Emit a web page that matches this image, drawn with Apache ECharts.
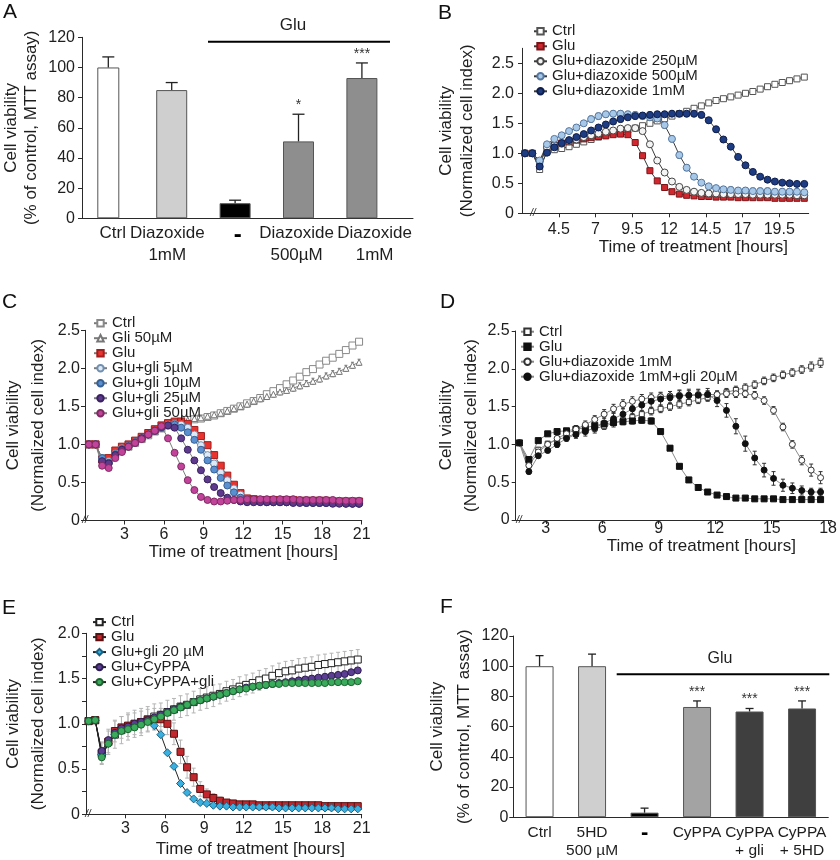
<!DOCTYPE html>
<html><head><meta charset="utf-8">
<script src="https://cdn.jsdelivr.net/npm/echarts@6/dist/echarts.min.js"></script>
<style>
html,body{margin:0;padding:0;background:#fff;}
body{width:840px;height:860px;position:relative;overflow:hidden;}
.p{position:absolute;left:0;top:0;width:840px;height:860px;}
</style></head>
<body>
<div id="cA" class="p"></div><div id="cB" class="p"></div><div id="cC" class="p"></div>
<div id="cD" class="p"></div><div id="cE" class="p"></div><div id="cF" class="p"></div>
<script>
// ---------- Panel A (MTT, diazoxide) ----------
const catsA = ['Ctrl', 'Diazoxide\n1mM', '-', 'Diazoxide\n500µM', 'Diazoxide\n1mM'];
const valsA = [100, 85, 10, 51, 93];
const errA  = [7, 5, 2, 18, 10];
const sigA  = ['', '', '', '*', '***'];

// ---------- Panel F (MTT, CyPPA) ----------
const catsF = ['Ctrl', '5HD\n500 µM', '-', 'CyPPA', 'CyPPA\n+ gli', 'CyPPA\n+ 5HD'];
const valsF = [100, 100, 3, 73, 70, 72];
const errF  = [7, 8, 3, 4, 2, 5];
const sigF  = ['', '', '', '***', '***', '***'];

// ---------- Panel B ----------
const ticksB = [4.5, 7, 9.5, 12, 14.5, 17, 19.5];
const tB = [2.2,2.7,3.2,3.7,4.2,4.7,5.2,5.7,6.2,6.7,7.2,7.7,8.2,8.7,9.2,9.7,10.2,10.7,11.2,11.7,12.2,12.7,13.2,13.7,14.2,14.7,15.2,15.7,16.2,16.7,17.2,17.7,18.2,18.7,19.2,19.7,20.2,20.7,21.2];
const ctrlB = [1.00,1.00,0.73,1.03,1.06,1.08,1.11,1.15,1.19,1.23,1.27,1.30,1.33,1.36,1.39,1.42,1.46,1.50,1.54,1.58,1.62,1.66,1.70,1.75,1.79,1.84,1.88,1.91,1.94,1.97,2.00,2.03,2.07,2.11,2.15,2.18,2.21,2.24,2.27];
const gluB  = [1.00,1.00,0.80,1.12,1.14,1.17,1.19,1.22,1.24,1.26,1.28,1.29,1.31,1.32,1.31,1.18,0.96,0.71,0.54,0.43,0.36,0.32,0.30,0.29,0.28,0.28,0.27,0.27,0.27,0.26,0.26,0.26,0.26,0.26,0.25,0.25,0.25,0.25,0.25];
const d250B = [1.00,1.00,0.86,1.10,1.13,1.16,1.20,1.23,1.27,1.30,1.33,1.36,1.38,1.41,1.42,1.42,1.37,1.15,0.88,0.68,0.53,0.44,0.39,0.36,0.34,0.33,0.33,0.32,0.32,0.32,0.32,0.31,0.31,0.31,0.31,0.31,0.31,0.30,0.30];
const d500B = [1.00,1.00,0.88,1.15,1.24,1.30,1.37,1.43,1.50,1.57,1.62,1.65,1.66,1.66,1.65,1.64,1.62,1.60,1.58,1.47,1.24,0.97,0.76,0.61,0.51,0.45,0.42,0.40,0.39,0.38,0.38,0.37,0.37,0.37,0.36,0.36,0.36,0.36,0.35];
const d1mB  = [1.00,1.00,0.78,1.01,1.10,1.17,1.22,1.27,1.32,1.38,1.43,1.48,1.53,1.57,1.60,1.62,1.63,1.64,1.65,1.65,1.66,1.66,1.66,1.66,1.64,1.55,1.40,1.23,1.11,0.94,0.80,0.69,0.61,0.56,0.53,0.51,0.50,0.49,0.49];
const eCtrlB = [0.01,0.01,0.03,0.02,0.02,0.02,0.02,0.02,0.02,0.02,0.03,0.03,0.03,0.03,0.03,0.03,0.03,0.03,0.03,0.03,0.03,0.03,0.03,0.03,0.03,0.03,0.03,0.03,0.03,0.03,0.03,0.03,0.03,0.03,0.03,0.03,0.04,0.04,0.04];
const e500B  = [0.01,0.01,0.03,0.03,0.03,0.03,0.03,0.04,0.04,0.05,0.05,0.05,0.05,0.05,0.05,0.05,0.05,0.05,0.05,0.05,0.05,0.05,0.05,0.04,0.04,0.04,0.04,0.04,0.05,0.05,0.05,0.05,0.05,0.05,0.05,0.05,0.05,0.05,0.05];
const e1mB   = [0.01,0.01,0.03,0.03,0.03,0.03,0.03,0.03,0.04,0.04,0.04,0.04,0.04,0.05,0.05,0.05,0.05,0.05,0.05,0.05,0.05,0.05,0.05,0.05,0.05,0.05,0.05,0.04,0.04,0.04,0.03,0.03,0.03,0.02,0.02,0.02,0.02,0.02,0.02];

// ---------- Panel C ----------
const ticksC = [3, 6, 9, 12, 15, 18, 21];
const tC = [0.3,0.8,1.3,1.8,2.3,2.8,3.3,3.8,4.3,4.8,5.3,5.8,6.3,6.8,7.3,7.8,8.3,8.8,9.3,9.8,10.3,10.8,11.3,11.8,12.3,12.8,13.3,13.8,14.3,14.8,15.3,15.8,16.3,16.8,17.3,17.8,18.3,18.8,19.3,19.8,20.3,20.8];
const ctrlC = [1.00,1.00,0.82,0.78,0.88,0.94,0.97,1.02,1.07,1.12,1.17,1.21,1.25,1.28,1.30,1.32,1.33,1.34,1.36,1.38,1.41,1.44,1.47,1.50,1.54,1.57,1.61,1.66,1.70,1.74,1.79,1.84,1.89,1.95,1.99,2.05,2.10,2.14,2.19,2.24,2.30,2.35];
const gliC  = [1.00,1.00,0.80,0.77,0.88,0.94,0.98,1.03,1.08,1.13,1.17,1.21,1.25,1.28,1.30,1.32,1.34,1.35,1.37,1.39,1.41,1.44,1.47,1.50,1.53,1.57,1.60,1.63,1.66,1.69,1.71,1.74,1.77,1.80,1.83,1.86,1.90,1.93,1.96,2.00,2.04,2.08];
const gluC  = [1.00,1.00,0.80,0.82,0.92,0.97,1.00,1.05,1.10,1.15,1.20,1.25,1.28,1.30,1.30,1.27,1.19,1.11,0.99,0.86,0.72,0.59,0.47,0.36,0.29,0.28,0.27,0.27,0.27,0.27,0.27,0.27,0.26,0.26,0.26,0.26,0.26,0.25,0.25,0.25,0.25,0.25];
const g5C   = [1.00,1.00,0.80,0.78,0.88,0.95,0.98,1.03,1.08,1.13,1.18,1.23,1.26,1.27,1.26,1.22,1.13,0.99,0.86,0.75,0.63,0.53,0.42,0.34,0.28,0.26,0.25,0.25,0.25,0.24,0.24,0.24,0.24,0.24,0.24,0.23,0.23,0.23,0.23,0.23,0.22,0.22];
const g10C  = [1.00,1.00,0.82,0.76,0.87,0.94,0.98,1.03,1.08,1.13,1.18,1.22,1.25,1.26,1.22,1.16,1.06,0.93,0.79,0.67,0.56,0.46,0.37,0.30,0.27,0.25,0.25,0.24,0.24,0.24,0.24,0.24,0.24,0.23,0.23,0.23,0.23,0.23,0.23,0.22,0.22,0.22];
const g25C  = [1.00,1.00,0.78,0.75,0.86,0.93,0.97,1.02,1.08,1.13,1.18,1.23,1.25,1.22,1.08,0.93,0.79,0.66,0.54,0.44,0.36,0.30,0.27,0.25,0.24,0.24,0.24,0.24,0.24,0.24,0.24,0.23,0.23,0.23,0.23,0.23,0.23,0.22,0.22,0.22,0.22,0.22];
const g50C  = [1.00,1.00,0.72,0.69,0.82,0.90,0.97,1.02,1.07,1.13,1.18,1.24,1.08,0.89,0.71,0.53,0.40,0.31,0.27,0.25,0.25,0.26,0.27,0.27,0.28,0.28,0.28,0.28,0.28,0.28,0.28,0.28,0.27,0.27,0.27,0.27,0.27,0.27,0.26,0.26,0.26,0.26];
const eGliC = [0.01,0.01,0.02,0.02,0.02,0.02,0.02,0.02,0.02,0.02,0.02,0.02,0.02,0.02,0.02,0.03,0.03,0.03,0.03,0.03,0.03,0.03,0.03,0.04,0.04,0.04,0.04,0.04,0.04,0.04,0.04,0.04,0.04,0.04,0.04,0.04,0.04,0.04,0.04,0.04,0.04,0.04];

// ---------- Panel D ----------
const ticksD = [3, 6, 9, 12, 15, 18];
const tD = [1.6,2.1,2.6,3.1,3.6,4.1,4.6,5.1,5.6,6.1,6.6,7.1,7.6,8.1,8.6,9.1,9.6,10.1,10.6,11.1,11.6,12.1,12.6,13.1,13.6,14.1,14.6,15.1,15.6,16.1,16.6,17.1,17.6];
const ctrlD  = [1.02,0.76,0.93,1.01,1.06,1.10,1.14,1.18,1.21,1.24,1.28,1.32,1.36,1.40,1.44,1.47,1.50,1.53,1.56,1.59,1.62,1.65,1.69,1.72,1.75,1.79,1.84,1.88,1.92,1.95,1.99,2.03,2.08];
const gluD   = [1.02,0.80,1.05,1.14,1.17,1.18,1.20,1.22,1.25,1.27,1.29,1.30,1.31,1.32,1.31,1.17,0.95,0.71,0.53,0.43,0.37,0.33,0.31,0.29,0.29,0.28,0.28,0.28,0.27,0.27,0.27,0.27,0.27];
const diazD  = [1.02,0.72,0.90,1.00,1.08,1.14,1.20,1.26,1.33,1.40,1.47,1.53,1.57,1.60,1.62,1.63,1.64,1.65,1.65,1.66,1.66,1.66,1.67,1.67,1.67,1.65,1.58,1.45,1.23,1.00,0.79,0.66,0.56];
const dgliD  = [1.02,0.64,0.85,0.92,1.00,1.08,1.13,1.17,1.22,1.28,1.34,1.40,1.47,1.52,1.57,1.60,1.62,1.64,1.65,1.65,1.66,1.58,1.45,1.24,1.01,0.82,0.66,0.55,0.46,0.42,0.39,0.37,0.37];
const eCtrlD = [0.02,0.03,0.03,0.03,0.03,0.04,0.04,0.04,0.04,0.04,0.05,0.05,0.05,0.05,0.05,0.05,0.05,0.05,0.05,0.05,0.05,0.05,0.05,0.05,0.05,0.05,0.05,0.05,0.05,0.05,0.05,0.06,0.06];
const eGluD  = [0.02,0.03,0.02,0.02,0.03,0.03,0.04,0.04,0.04,0.04,0.04,0.04,0.04,0.04,0.04,0.03,0.03,0.03,0.03,0.03,0.03,0.02,0.02,0.02,0.02,0.02,0.02,0.02,0.02,0.02,0.02,0.02,0.02];
const eDiazD = [0.02,0.03,0.03,0.03,0.04,0.04,0.05,0.05,0.05,0.06,0.06,0.06,0.06,0.06,0.06,0.06,0.06,0.06,0.06,0.06,0.05,0.05,0.05,0.05,0.05,0.05,0.05,0.05,0.05,0.05,0.06,0.08,0.08];
const eDgliD = [0.02,0.03,0.03,0.03,0.04,0.04,0.05,0.06,0.07,0.08,0.08,0.08,0.08,0.08,0.08,0.08,0.08,0.08,0.08,0.08,0.08,0.08,0.09,0.10,0.10,0.09,0.09,0.09,0.08,0.07,0.06,0.05,0.05];

// ---------- Panel E ----------
const ticksE = [3, 6, 9, 12, 15, 18, 21];
const tE = [0.2,0.7,1.2,1.7,2.2,2.7,3.2,3.7,4.2,4.7,5.2,5.7,6.2,6.7,7.2,7.7,8.2,8.7,9.2,9.7,10.2,10.7,11.2,11.7,12.2,12.7,13.2,13.7,14.2,14.7,15.2,15.7,16.2,16.7,17.2,17.7,18.2,18.7,19.2,19.7,20.2,20.7];
const ctrlE = [1.03,1.04,0.67,0.80,0.88,0.93,0.97,1.00,1.02,1.05,1.08,1.10,1.13,1.16,1.19,1.21,1.24,1.27,1.29,1.31,1.33,1.36,1.38,1.41,1.43,1.45,1.48,1.50,1.53,1.56,1.58,1.59,1.61,1.62,1.63,1.65,1.66,1.67,1.68,1.69,1.70,1.71];
const gluE  = [1.03,1.04,0.68,0.80,0.92,0.96,0.98,1.00,1.02,1.04,1.05,1.05,1.00,0.89,0.69,0.52,0.41,0.28,0.22,0.18,0.15,0.13,0.12,0.11,0.11,0.11,0.10,0.10,0.10,0.10,0.10,0.10,0.10,0.10,0.10,0.10,0.09,0.09,0.09,0.09,0.09,0.09];
const gliE  = [1.03,1.04,0.66,0.78,0.88,0.93,0.96,0.99,1.01,1.03,0.98,0.88,0.68,0.53,0.34,0.24,0.17,0.13,0.12,0.10,0.09,0.09,0.08,0.08,0.08,0.08,0.08,0.08,0.08,0.07,0.07,0.07,0.07,0.07,0.07,0.07,0.07,0.07,0.06,0.06,0.06,0.06];
const cyE   = [1.03,1.04,0.70,0.82,0.90,0.95,0.97,1.00,1.02,1.04,1.07,1.10,1.13,1.16,1.19,1.21,1.24,1.26,1.28,1.30,1.32,1.34,1.36,1.38,1.40,1.41,1.42,1.43,1.44,1.45,1.46,1.47,1.48,1.49,1.50,1.51,1.52,1.53,1.54,1.55,1.57,1.59];
const cygE  = [1.03,1.04,0.63,0.78,0.88,0.92,0.94,0.96,0.99,1.02,1.05,1.08,1.12,1.15,1.18,1.21,1.24,1.26,1.28,1.30,1.32,1.34,1.36,1.38,1.39,1.41,1.42,1.43,1.44,1.44,1.45,1.45,1.45,1.45,1.45,1.45,1.45,1.46,1.46,1.46,1.46,1.47];
const eCtrlE = [0.02,0.02,0.12,0.14,0.15,0.15,0.15,0.15,0.15,0.14,0.14,0.13,0.13,0.12,0.12,0.12,0.12,0.12,0.12,0.12,0.11,0.11,0.11,0.11,0.11,0.11,0.11,0.11,0.11,0.11,0.11,0.11,0.11,0.11,0.11,0.11,0.11,0.11,0.11,0.11,0.11,0.11];
const eGluE  = [0.02,0.02,0.12,0.12,0.12,0.12,0.12,0.12,0.12,0.12,0.12,0.12,0.12,0.12,0.13,0.12,0.10,0.08,0.06,0.05,0.04,0.03,0.03,0.02,0.02,0.02,0.02,0.02,0.02,0.02,0.02,0.02,0.02,0.02,0.02,0.02,0.02,0.02,0.02,0.02,0.02,0.02];

// ================= helpers =================
const FONT = '"Liberation Sans", Arial, Helvetica, sans-serif';
const TXT = '#1e1e1e', AX = '#2a2a2a';
const pairs = (t, v) => t.map((x, i) => [x, v[i]]);
const triples = (t, v, e) => t.map((x, i) => [x, v[i], e[i]]);

function lineS(name, t, v, sym, size, fill, border, lc) {
  return { type: 'line', name, data: pairs(t, v), symbol: sym, symbolSize: size,
    showAllSymbol: true, z: 3, animation: false,
    itemStyle: { color: fill, borderColor: border, borderWidth: 1 },
    lineStyle: { color: lc, width: 1 }, emphasis: { disabled: true } };
}
function errS(data, color, cap) {
  return { type: 'custom', z: 2, silent: true, animation: false, encode: { x: 0, y: 1 },
    renderItem: (params, api) => {
      const x = api.value(0), y = api.value(1), e = api.value(2);
      const lo = api.coord([x, y - e]), hi = api.coord([x, y + e]);
      const st = { stroke: color, lineWidth: 1 };
      return { type: 'group', children: [
        { type: 'line', shape: { x1: lo[0], y1: lo[1], x2: hi[0], y2: hi[1] }, style: st },
        { type: 'line', shape: { x1: hi[0] - cap, y1: hi[1], x2: hi[0] + cap, y2: hi[1] }, style: st },
        { type: 'line', shape: { x1: lo[0] - cap, y1: lo[1], x2: lo[0] + cap, y2: lo[1] }, style: st } ] };
    }, data };
}
function barErrS(data, sig, cap, xi) {
  return { type: 'custom', z: 4, silent: true, animation: false, xAxisIndex: xi || 0, encode: { x: 0, y: 1 },
    renderItem: (params, api) => {
      const x = api.value(0), y = api.value(1), e = api.value(2);
      const b = api.coord([x, y]), t = api.coord([x, y + e]);
      const st = { stroke: '#222', lineWidth: 1.3 };
      const ch = [
        { type: 'line', shape: { x1: b[0], y1: b[1], x2: t[0], y2: t[1] }, style: st },
        { type: 'line', shape: { x1: t[0] - cap, y1: t[1], x2: t[0] + cap, y2: t[1] }, style: st } ];
      const s = sig[params.dataIndex];
      if (s) ch.push({ type: 'text', x: t[0], y: t[1] - 2,
        style: { text: s, align: 'center', verticalAlign: 'bottom', fontSize: 14, fontFamily: FONT, fill: '#333' } });
      return { type: 'group', children: ch };
    }, data };
}
function timeX(min, max, labels, margin, gap, padL) {
  return { type: 'value', min, max,
    axisLine: { show: true, onZero: false, lineStyle: { color: AX, width: 1 } },
    axisTick: { show: true, length: 4, customValues: labels, lineStyle: { color: AX } },
    axisLabel: { customValues: labels, fontSize: 16, color: TXT, margin, showMinLabel: true, showMaxLabel: true, formatter: v => String(v) },
    splitLine: { show: false },
    name: 'Time of treatment [hours]', nameLocation: 'middle', nameGap: gap,
    nameTextStyle: { fontSize: 17, color: TXT, padding: [0, 0, 0, padL] } };
}
function cellY(max, labels, ticks, gap, lh, margin) {
  return { type: 'value', min: 0, max,
    axisLine: { show: true, onZero: false, lineStyle: { color: AX, width: 1 } },
    axisTick: { show: true, length: 4, customValues: ticks, lineStyle: { color: AX } },
    axisLabel: { customValues: labels, fontSize: 16, color: TXT, margin, showMinLabel: true, showMaxLabel: true, formatter: v => v === 0 ? '0' : v.toFixed(1) },
    splitLine: { show: false },
    name: 'Cell viability\n(Normalized cell index)', nameLocation: 'middle', nameGap: gap,
    nameTextStyle: { fontSize: 17, color: TXT, lineHeight: lh } };
}
function legendAt(left, top, lh, names) {
  return { orient: 'vertical', left, top, padding: 0, itemGap: 0, itemWidth: 13, itemHeight: 8,
    selectedMode: false, data: names,
    textStyle: { fontSize: 15, color: TXT, lineHeight: lh, fontFamily: FONT } };
}
const letter = (s, x, y) => ({ type: 'text', x, y, style: { text: s, fontSize: 21, fontFamily: FONT, fill: '#111' } });
const brk = (x, y) => ({ type: 'text', x, y, style: { text: '//', fontSize: 10, fontFamily: FONT, fill: '#222', align: 'center', verticalAlign: 'middle', fontStyle: 'italic' } });
function mk(id, opt) {
  opt.animation = false;
  opt.textStyle = { fontFamily: FONT };
  echarts.init(document.getElementById(id), null, { renderer: 'canvas' }).setOption(opt);
}

// ================= Panel A =================
const barColA = ['#ffffff', '#cfcfcf', '#000000', '#8e8e8e', '#8e8e8e'];
const labelPosA = [0.07, 0.93, 2.04, 2.97, 4.2];   // label anchor positions (layout)
const catFmtA = v => { const s = catsA[Math.round(v)]; return s === '-' ? '{d|-}' : s; };
mk('cA', {
  grid: { left: 82, top: 37.3, width: 331, height: 181 },
  xAxis: [
    { type: 'value', min: -0.415, max: 4.806, splitLine: { show: false },
      axisLine: { show: true, onZero: false, lineStyle: { color: AX } }, axisTick: { show: false },
      axisLabel: { customValues: labelPosA, formatter: catFmtA, fontSize: 17, color: TXT, lineHeight: 22, margin: 4,
        showMinLabel: true, showMaxLabel: true, hideOverlap: false,
        rich: { d: { fontSize: 24, fontWeight: 'bold', color: '#000', padding: [4, 0, 0, 0] } } } },
    { type: 'value', min: -0.415, max: 4.806, show: false }
  ],
  yAxis: { type: 'value', min: 0, max: 120, interval: 20, splitLine: { show: false },
    axisLine: { show: true, onZero: false, lineStyle: { color: AX } },
    axisTick: { show: true, length: 4, lineStyle: { color: AX } },
    axisLabel: { fontSize: 16, color: TXT, margin: 7 },
    name: 'Cell viability\n(% of control, MTT assay)', nameLocation: 'middle', nameGap: 41,
    nameTextStyle: { fontSize: 17, color: TXT, lineHeight: 20 } },
  series: [
    { type: 'bar', xAxisIndex: 1, barWidth: 22,
      data: valsA.map((v, i) => i === 0 ? { value: [i, v], itemStyle: { color: barColA[i] } } : null).filter(Boolean),
      itemStyle: { borderColor: '#555', borderWidth: 1 } },
    { type: 'bar', xAxisIndex: 0, barWidth: 31,
      data: valsA.map((v, i) => i > 0 ? { value: [i, v], itemStyle: { color: barColA[i] } } : null).filter(Boolean),
      itemStyle: { borderColor: '#555', borderWidth: 1 } },
    barErrS(valsA.map((v, i) => [i, v, errA[i]]), sigA, 6, 0)
  ],
  graphic: [
    letter('A', 3, 2),
    { type: 'line', shape: { x1: 208, y1: 41.7, x2: 390, y2: 41.7 }, style: { stroke: '#000', lineWidth: 2 } },
    { type: 'text', x: 293, y: 25, style: { text: 'Glu', fontSize: 17, fontFamily: FONT, fill: TXT, align: 'center', verticalAlign: 'middle' } }
  ]
});

// ================= Panel B =================
const LB = '#3a3a3a';
mk('cB', {
  grid: { left: 522, top: 48.3, width: 286.7, height: 165 },
  xAxis: timeX(2, 21.5, ticksB, 8, 26, 56),
  yAxis: cellY(2.75, [0, 0.5, 1, 1.5, 2, 2.5], [0, 0.5, 1, 1.5, 2, 2.5], 44, 21, 8),
  legend: legendAt(533, 23.8, 14.5, ['Ctrl', 'Glu', 'Glu+diazoxide 250µM', 'Glu+diazoxide 500µM', 'Glu+diazoxide 1mM']),
  series: [
    errS(triples(tB, ctrlB, eCtrlB), '#555', 2),
    errS(triples(tB, d500B, e500B), '#555', 2),
    errS(triples(tB, d1mB, e1mB), '#555', 2),
    lineS('Ctrl', tB, ctrlB, 'rect', 6, '#ffffff', '#555', LB),
    lineS('Glu', tB, gluB, 'rect', 6, '#d0282e', '#7a1518', LB),
    lineS('Glu+diazoxide 250µM', tB, d250B, 'circle', 7, '#f4f4f4', '#444', LB),
    lineS('Glu+diazoxide 500µM', tB, d500B, 'circle', 7, '#a8c8e8', '#5577a0', LB),
    lineS('Glu+diazoxide 1mM', tB, d1mB, 'circle', 7, '#1e3c82', '#0e1e4a', LB)
  ],
  graphic: [letter('B', 438, 3), brk(533, 213)]
});

// ================= Panel C =================
const LC = '#7a7a7a';
mk('cC', {
  grid: { left: 80, top: 330.3, width: 281.7, height: 190.2 },
  xAxis: timeX(0, 21, ticksC, 6, 21, 40),
  yAxis: cellY(2.5, [0, 0.5, 1, 1.5, 2, 2.5], [0, 0.5, 1, 1.5, 2, 2.5], 34, 25, 5),
  legend: legendAt(93, 315.7, 13.2, ['Ctrl', 'Gli 50µM', 'Glu', 'Glu+gli 5µM', 'Glu+gli 10µM', 'Glu+gli 25µM', 'Glu+gli 50µM']),
  series: [
    errS(triples(tC, gliC, eGliC), '#777', 1.5),
    lineS('Ctrl', tC, ctrlC, 'rect', 7, '#ffffff', '#888', LC),
    lineS('Gli 50µM', tC, gliC, 'triangle', 6, '#ffffff', '#777', LC),
    lineS('Glu', tC, gluC, 'rect', 7, '#e8332e', '#a01e1e', LC),
    lineS('Glu+gli 5µM', tC, g5C, 'circle', 7, '#dfe9f5', '#7090b0', LC),
    lineS('Glu+gli 10µM', tC, g10C, 'circle', 7, '#5a8fd0', '#365f94', LC),
    lineS('Glu+gli 25µM', tC, g25C, 'circle', 7, '#5d3a8c', '#3a2160', LC),
    lineS('Glu+gli 50µM', tC, g50C, 'circle', 7, '#c1449a', '#7e2a63', LC)
  ],
  graphic: [letter('C', 2, 292), brk(85, 520.5)]
});

// ================= Panel D =================
const LD = '#8a8a8a';
mk('cD', {
  grid: { left: 515.7, top: 331, width: 320, height: 189 },
  xAxis: timeX(1.4, 18.2, ticksD, 1, 13, 55),
  yAxis: cellY(2.5, [0, 0.5, 1, 1.5, 2, 2.5], [0, 0.5, 1, 1.5, 2, 2.5], 30, 25, 6),
  legend: legendAt(520, 324.2, 15, ['Ctrl', 'Glu', 'Glu+diazoxide 1mM', 'Glu+diazoxide 1mM+gli 20µM']),
  series: [
    errS(triples(tD, ctrlD, eCtrlD), '#333', 2),
    errS(triples(tD, gluD, eGluD), '#333', 2),
    errS(triples(tD, diazD, eDiazD), '#333', 2),
    errS(triples(tD, dgliD, eDgliD), '#333', 2),
    lineS('Ctrl', tD, ctrlD, 'rect', 5, '#ffffff', '#333', LD),
    lineS('Glu', tD, gluD, 'rect', 6, '#111111', '#111', LD),
    lineS('Glu+diazoxide 1mM', tD, diazD, 'circle', 6, '#ffffff', '#333', LD),
    lineS('Glu+diazoxide 1mM+gli 20µM', tD, dgliD, 'circle', 6, '#111111', '#111', LD)
  ],
  graphic: [letter('D', 440, 292), brk(519, 520)]
});

// ================= Panel E =================
const LE = '#222';
mk('cE', {
  grid: { left: 81.7, top: 633.3, width: 280, height: 181 },
  xAxis: timeX(0, 21, ticksE, 6.5, 27, 53),
  yAxis: cellY(2, [0, 0.5, 1, 1.5, 2], [0, 0.25, 0.5, 0.75, 1, 1.25, 1.5, 1.75, 2], 35, 25, 6),
  legend: legendAt(92, 614.6, 14.2, ['Ctrl', 'Glu', 'Glu+gli 20 µM', 'Glu+CyPPA', 'Glu+CyPPA+gli']),
  series: [
    errS(triples(tE, ctrlE, eCtrlE), '#b5b5b5', 2),
    errS(triples(tE, gluE, eGluE), '#b5b5b5', 2),
    lineS('Ctrl', tE, ctrlE, 'rect', 7, '#ffffff', '#222', LE),
    lineS('Glu', tE, gluE, 'rect', 7, '#c1272d', '#5a1010', LE),
    lineS('Glu+gli 20 µM', tE, gliE, 'diamond', 8, '#3ab0e0', '#1a6080', LE),
    lineS('Glu+CyPPA', tE, cyE, 'circle', 7, '#5b3e91', '#2e1e50', LE),
    lineS('Glu+CyPPA+gli', tE, cygE, 'circle', 7, '#3aaa5c', '#1e6030', LE)
  ],
  graphic: [letter('E', 2, 598), brk(88, 814.3)]
});

// ================= Panel F =================
const barColF = ['#ffffff', '#cfcfcf', '#000000', '#a3a3a3', '#3f3f3f', '#3f3f3f'];
mk('cF', {
  grid: { left: 513.3, top: 636, width: 315, height: 182.3 },
  xAxis: { type: 'category', data: catsF, axisTick: { show: false },
    axisLine: { show: true, onZero: false, lineStyle: { color: AX } },
    axisLabel: { interval: 0, fontSize: 15.5, color: TXT, lineHeight: 18.4, margin: 6,
      formatter: s => s === '-' ? '{d|-}' : s,
      rich: { d: { fontSize: 22, fontWeight: 'bold', color: '#000', padding: [2, 0, 0, 0] } } } },
  yAxis: { type: 'value', min: 0, max: 120, interval: 20, splitLine: { show: false },
    axisLine: { show: true, onZero: false, lineStyle: { color: AX } },
    axisTick: { show: true, length: 4, lineStyle: { color: AX } },
    axisLabel: { fontSize: 16, color: TXT, margin: 5 },
    name: 'Cell viability\n(% of control, MTT assay)', nameLocation: 'middle', nameGap: 24,
    nameTextStyle: { fontSize: 17, color: TXT, lineHeight: 27 } },
  series: [
    { type: 'bar', barWidth: 28,
      data: valsF.map((v, i) => ({ value: v, itemStyle: { color: barColF[i] } })),
      itemStyle: { borderColor: '#555', borderWidth: 1 } },
    barErrS(valsF.map((v, i) => [i, v, errF[i]]), sigF, 4, 0)
  ],
  graphic: [
    letter('F', 440, 597),
    { type: 'line', shape: { x1: 616.7, y1: 674.3, x2: 829.3, y2: 674.3 }, style: { stroke: '#000', lineWidth: 2 } },
    { type: 'text', x: 720, y: 658.3, style: { text: 'Glu', fontSize: 16, fontFamily: FONT, fill: TXT, align: 'center', verticalAlign: 'middle' } }
  ]
});
</script>
</body></html>
